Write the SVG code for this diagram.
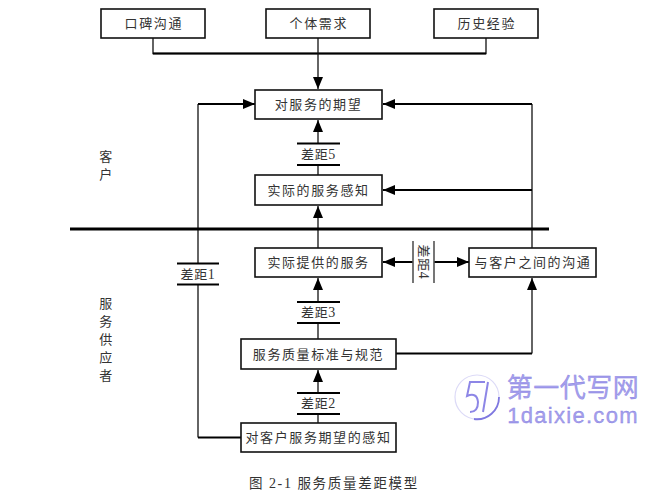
<svg xmlns="http://www.w3.org/2000/svg" width="655" height="499" viewBox="0 0 655 499">
<style>
text{font-family:"Noto Sans CJK SC","Liberation Serif",serif;font-size:13px;fill:#333;text-anchor:middle;letter-spacing:1.6px}
.s{font-family:"Liberation Serif","Noto Sans CJK SC",serif;font-size:14px}
.g{letter-spacing:.6px}
.box{fill:#fff;stroke:#111;stroke-width:1.6}
.ln{fill:none;stroke:#111;stroke-width:1.3}
.th{fill:none;stroke:#000;stroke-width:2}
.wm{fill:#a5a0ec;stroke:#7f78e0;stroke-width:.3;font-family:"Liberation Sans","Noto Sans CJK SC",sans-serif;letter-spacing:0}
</style>
<defs>
<marker id="a" markerUnits="userSpaceOnUse" markerWidth="12" markerHeight="10" refX="12" refY="5" orient="auto"><path d="M0 0L12 5L0 10Z" fill="#000"/></marker>
</defs>
<g id="connectors">
<path class="ln" d="M153 38V53.500H486V38"/>
<path class="th" d="M153 53.500H486"/>
<path class="ln" d="M318 38V89" marker-end="url(#a)"/>
<path class="ln" d="M318 175V120" marker-end="url(#a)"/>
<path class="ln" d="M318 248V206" marker-end="url(#a)"/>
<path class="ln" d="M318 339V278" marker-end="url(#a)"/>
<path class="ln" d="M318 423V370" marker-end="url(#a)"/>
<path class="ln" d="M198 104V437.500" stroke="#555"/>
<path class="th" d="M241 437.500H198"/>
<path class="th" d="M198 104H255" marker-end="url(#a)"/>
<path class="ln" d="M532 248V104"/>
<path class="th" d="M532 104H383" marker-end="url(#a)"/>
<path class="th" d="M532 190H383" marker-end="url(#a)"/>
<path class="th" d="M413 262H383" marker-end="url(#a)"/>
<path class="th" d="M434 262H469" marker-end="url(#a)"/>
<path class="th" d="M396 353.500H532"/>
<path class="ln" d="M532 353.500V278" marker-end="url(#a)"/>
<path d="M70 229H549" fill="none" stroke="#000" stroke-width="3.200"/>
</g>
<g id="n-koubei"><rect class="box" x="101" y="9" width="104" height="29"/><text x="153.800" y="28">口碑沟通</text></g>
<g id="n-geti"><rect class="box" x="266" y="9" width="104" height="29"/><text x="318.800" y="28">个体需求</text></g>
<g id="n-lishi"><rect class="box" x="434" y="9" width="104" height="29"/><text x="486.800" y="28">历史经验</text></g>
<g id="n-qiwang"><rect class="box" x="255" y="90" width="127" height="29"/><text x="318.500" y="109">对服务的期望</text></g>
<g id="n-ganzhi"><rect class="box" x="255" y="175" width="127" height="30"/><text x="318.500" y="194.500">实际的服务感知</text></g>
<g id="n-tigong"><rect class="box" x="255" y="248" width="127" height="29"/><text x="318.500" y="267">实际提供的服务</text></g>
<g id="n-goutong"><rect class="box" x="469" y="248" width="127" height="29"/><text x="533" y="267">与客户之间的沟通</text></g>
<g id="n-guifan"><rect class="box" x="241" y="339" width="155" height="30"/><text x="318.500" y="358.500">服务质量标准与规范</text></g>
<g id="n-qiye"><rect class="box" x="241" y="423" width="155" height="29"/><text x="318.500" y="442">对客户服务期望的感知</text></g>
<g id="gap5"><rect x="297" y="144" width="43" height="21" fill="#fff"/><path class="th" d="M297 143.500H340M297 165H340"/><text class="g" x="318.500" y="159">差距<tspan class="s">5</tspan></text></g>
<g id="gap3"><rect x="297" y="302" width="43" height="21" fill="#fff"/><path class="th" d="M297 302H340M297 323H340"/><text class="g" x="318.500" y="317">差距<tspan class="s">3</tspan></text></g>
<g id="gap2"><rect x="297" y="393" width="43" height="21" fill="#fff"/><path class="th" d="M297 393H340M297 414H340"/><text class="g" x="318.500" y="408">差距<tspan class="s">2</tspan></text></g>
<g id="gap1"><rect x="177" y="264" width="42" height="21" fill="#fff"/><path class="th" d="M177 263.500H219M177 284.500H219"/><text class="g" x="198" y="279">差距<tspan class="s">1</tspan></text></g>
<g id="gap4"><rect x="413" y="241" width="21" height="42" fill="#fff"/><path d="M413 241V283M434 241V283" fill="none" stroke="#555" stroke-width="1.600"/><text class="g" transform="translate(423.500 262) rotate(90)" x="0" y="4.500">差距<tspan class="s">4</tspan></text></g>
<g id="side-labels">
<text x="106.500" y="161">客</text><text x="106.500" y="179">户</text>
<text x="106.500" y="308">服</text><text x="106.500" y="326">务</text><text x="106.500" y="344">供</text><text x="106.500" y="362">应</text><text x="106.500" y="380">者</text>
</g>
<text x="334" y="488" style="font-size:13.500px;letter-spacing:1.700px">图 <tspan class="s">2-1</tspan> 服务质量差距模型</text>
<g id="watermark">
<circle cx="477" cy="397" r="22" fill="#fff" stroke="#dcdaf7" stroke-width="1.200"/>
<path d="M499 397A22 22 0 0 1 474 419" fill="none" stroke="#7f78e0" stroke-width="1.800"/>
<path d="M485 382H470L467 396Q477 392 478 402Q478 412 470 412M488 382L483 412" fill="none" stroke="#8d86e6" stroke-width="2"/>
<text class="wm" x="573" y="397" style="font-size:26px;font-family:'Noto Sans CJK SC',sans-serif;letter-spacing:.5px">第一代写网</text>
<text class="wm" x="573" y="423" style="font-size:22px;letter-spacing:1.300px">1daixie.com</text>
</g>
</svg>
